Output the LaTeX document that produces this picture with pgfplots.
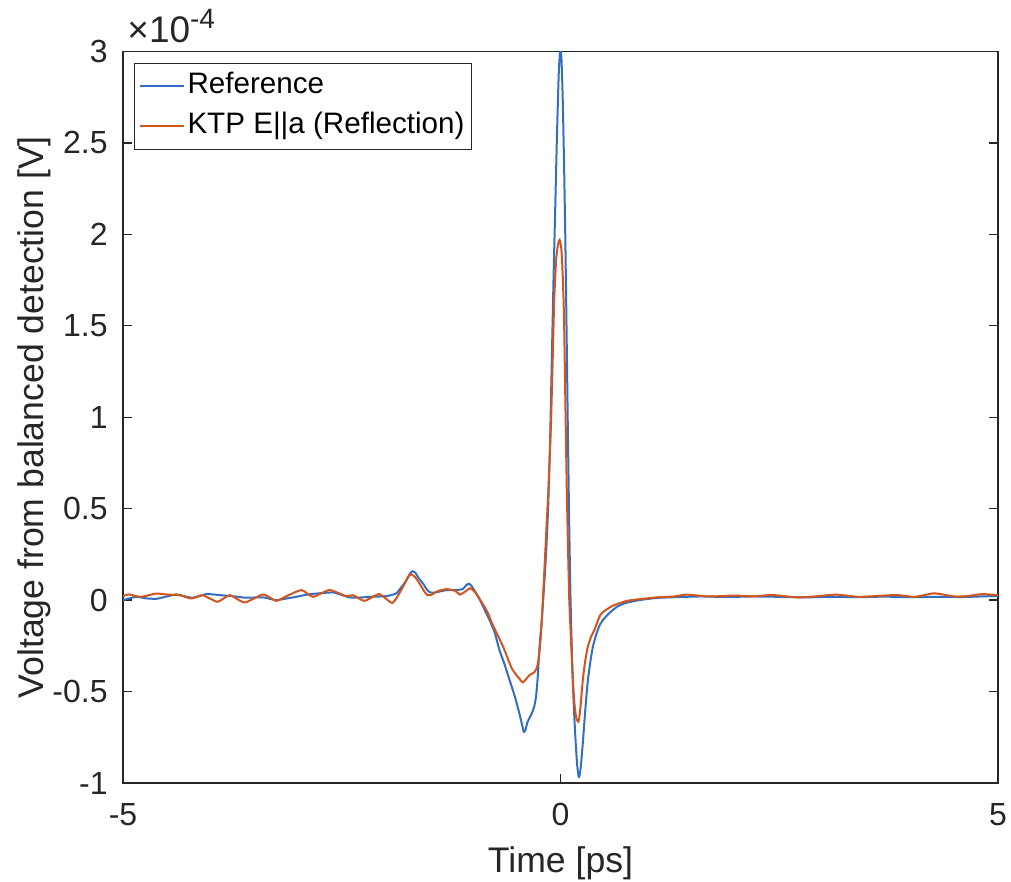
\documentclass[border=0pt]{standalone}
\usepackage{fontspec}
\setmainfont{Liberation Sans}
\usepackage{pgfplots}
\pgfplotsset{compat=1.18}
\definecolor{axgray}{RGB}{38,38,38}
\definecolor{mblue}{RGB}{50,110,195}
\definecolor{morange}{RGB}{210,85,30}
\begin{document}
\begin{tikzpicture}
\path[use as bounding box] (-61.5pt,-49.5pt) rectangle (444pt,391.5pt);
\begin{axis}[
  name=ax,
  scale only axis,
  width=437.5pt, height=365.75pt,
  xmin=-5, xmax=5, ymin=-1, ymax=3,
  xtick={-5,0,5}, xticklabels={-5,0,5},
  ytick={-1,-0.5,0,0.5,1,1.5,2,2.5,3},
  yticklabels={-1,-0.5,0,0.5,1,1.5,2,2.5,3},
  scaled ticks=false,
  tick align=inside,
  major tick length=4.5pt,
  axis line style={axgray, line width=0.65pt},
  every tick/.style={axgray, line width=0.65pt},
  tick label style={font=\fontsize{16}{19}\selectfont, text=axgray, inner sep=0pt},
  yticklabel style={anchor=east, xshift=-7.5pt},
  xticklabel style={anchor=north, yshift=-10pt},
  xlabel={Time [ps]},
  ylabel={Voltage from balanced detection [V]},
  label style={font=\fontsize{17.8}{21}\selectfont, text=axgray},
  xlabel style={at={(axis description cs:0.5,-0.123)}, anchor=base},
  ylabel style={at={(axis description cs:-0.0914,0.5)}, anchor=base, rotate=0},
  legend cell align=left,
  legend style={at={(axis description cs:0.01257,0.98428)}, anchor=north west,
    draw=axgray, line width=0.5pt, fill=white,
    font=\fontsize{14.8}{17}\selectfont, text=black,
    inner xsep=2pt, inner ysep=1.5pt, row sep=0pt,
    nodes={text height=11.5pt, text depth=4pt, inner ysep=2.25pt, inner xsep=1.5pt}},
  legend image code/.code={\draw[#1] (0pt,0pt) -- (22pt,0pt);},
]
\addplot[mblue, line width=1pt, smooth, tension=0.35] coordinates {
(-5.00,0.00) (-4.85,0.018) (-4.74,0.01) (-4.62,0.007) (-4.50,0.02) (-4.39,0.031)
(-4.29,0.02) (-4.19,0.013) (-4.05,0.033) (-3.95,0.03) (-3.86,0.026) (-3.72,0.02)
(-3.59,0.013) (-3.40,0.015) (-3.25,0.0) (-3.12,0.01) (-3.02,0.018) (-2.90,0.03)
(-2.79,0.036) (-2.60,0.042) (-2.50,0.028) (-2.41,0.015) (-2.30,0.014) (-2.18,0.018)
(-1.99,0.022) (-1.88,0.036) (-1.82,0.07) (-1.76,0.109) (-1.72,0.145) (-1.69,0.158)
(-1.66,0.15) (-1.62,0.12) (-1.57,0.09) (-1.53,0.06) (-1.50,0.045) (-1.46,0.04)
(-1.40,0.045) (-1.30,0.055) (-1.20,0.055) (-1.12,0.06) (-1.08,0.08) (-1.05,0.09)
(-1.02,0.08) (-0.98,0.05) (-0.93,0.01) (-0.87,-0.05) (-0.81,-0.11) (-0.75,-0.18)
(-0.70,-0.27) (-0.64,-0.35) (-0.58,-0.44) (-0.52,-0.53) (-0.47,-0.62) (-0.44,-0.68)
(-0.42,-0.72) (-0.40,-0.71) (-0.38,-0.67) (-0.35,-0.64) (-0.32,-0.61) (-0.30,-0.58)
(-0.28,-0.53) (-0.26,-0.42) (-0.24,-0.26) (-0.21,-0.08) (-0.183,0.109) (-0.16,0.30)
(-0.14,0.52) (-0.12,0.85) (-0.10,1.30) (-0.08,1.75) (-0.06,2.15) (-0.04,2.55)
(-0.02,2.88) (-0.005,3.0) (0.01,2.97) (0.025,2.75) (0.04,2.40) (0.055,1.98)
(0.07,1.45) (0.085,0.90) (0.10,0.40) (0.115,0.0) (0.13,-0.28) (0.145,-0.50)
(0.16,-0.66) (0.175,-0.79) (0.19,-0.90) (0.205,-0.96) (0.215,-0.965) (0.23,-0.92)
(0.245,-0.84) (0.26,-0.75) (0.28,-0.62) (0.31,-0.45) (0.34,-0.34) (0.37,-0.255)
(0.41,-0.185) (0.45,-0.135) (0.50,-0.10) (0.56,-0.07) (0.65,-0.035) (0.75,-0.015)
(0.90,0.0) (1.10,0.012) (1.30,0.016) (1.60,0.02) (1.90,0.017) (2.20,0.02)
(2.50,0.018) (2.80,0.015) (3.10,0.018) (3.40,0.016) (3.70,0.019) (4.00,0.016)
(4.30,0.018) (4.60,0.017) (4.80,0.02) (5.00,0.023)
};
\addlegendentry{Reference}
\addplot[morange, line width=1pt, smooth, tension=0.35] coordinates {
(-5.00,0.022) (-4.93,0.031) (-4.81,0.018) (-4.72,0.025) (-4.62,0.036) (-4.48,0.03)
(-4.35,0.027) (-4.22,0.009) (-4.09,0.027) (-3.92,-0.009) (-3.78,0.027) (-3.61,-0.013)
(-3.40,0.031) (-3.25,-0.004) (-3.13,0.022) (-2.96,0.055) (-2.83,0.018) (-2.64,0.055)
(-2.45,0.022) (-2.37,0.027) (-2.24,-0.004) (-2.07,0.033) (-1.92,-0.015) (-1.80,0.073)
(-1.75,0.12) (-1.71,0.142) (-1.66,0.125) (-1.61,0.09) (-1.56,0.05) (-1.52,0.027)
(-1.47,0.03) (-1.40,0.05) (-1.30,0.06) (-1.20,0.05) (-1.15,0.03) (-1.08,0.05)
(-1.03,0.065) (-0.97,0.04) (-0.93,0.01) (-0.89,-0.02) (-0.83,-0.07) (-0.78,-0.13)
(-0.72,-0.19) (-0.66,-0.25) (-0.61,-0.31) (-0.56,-0.37) (-0.52,-0.40) (-0.47,-0.43)
(-0.43,-0.45) (-0.39,-0.43) (-0.354,-0.41) (-0.30,-0.395) (-0.27,-0.37) (-0.25,-0.32)
(-0.229,-0.22) (-0.21,-0.08) (-0.19,0.109) (-0.16,0.40) (-0.137,0.62) (-0.11,0.95)
(-0.09,1.30) (-0.072,1.64) (-0.05,1.86) (-0.03,1.94) (-0.01,1.97) (0.01,1.92)
(0.025,1.78) (0.04,1.55) (0.055,1.10) (0.07,0.65) (0.085,0.30) (0.10,0.0)
(0.12,-0.22) (0.141,-0.437) (0.16,-0.57) (0.18,-0.645) (0.205,-0.665) (0.225,-0.60)
(0.255,-0.437) (0.28,-0.34) (0.312,-0.255) (0.35,-0.20) (0.39,-0.16) (0.45,-0.085)
(0.50,-0.06) (0.60,-0.03) (0.75,-0.005) (0.90,0.005) (1.10,0.015) (1.30,0.02)
(1.44,0.03) (1.70,0.02) (2.00,0.025) (2.20,0.02) (2.42,0.028) (2.70,0.015)
(2.90,0.02) (3.15,0.03) (3.40,0.018) (3.60,0.022) (3.84,0.028) (4.05,0.018)
(4.27,0.037) (4.50,0.02) (4.65,0.022) (4.82,0.033) (5.00,0.027)
};
\addlegendentry{KTP E||a (Reflection)}
\end{axis}
\node[anchor=base west, inner sep=0pt, text=axgray, font=\fontsize{18.5}{21}\selectfont]
  at ([xshift=2pt,yshift=4.25pt]ax.north west) {×10\raisebox{7pt}{\fontsize{14}{16}\selectfont -4}};
\end{tikzpicture}
\end{document}
